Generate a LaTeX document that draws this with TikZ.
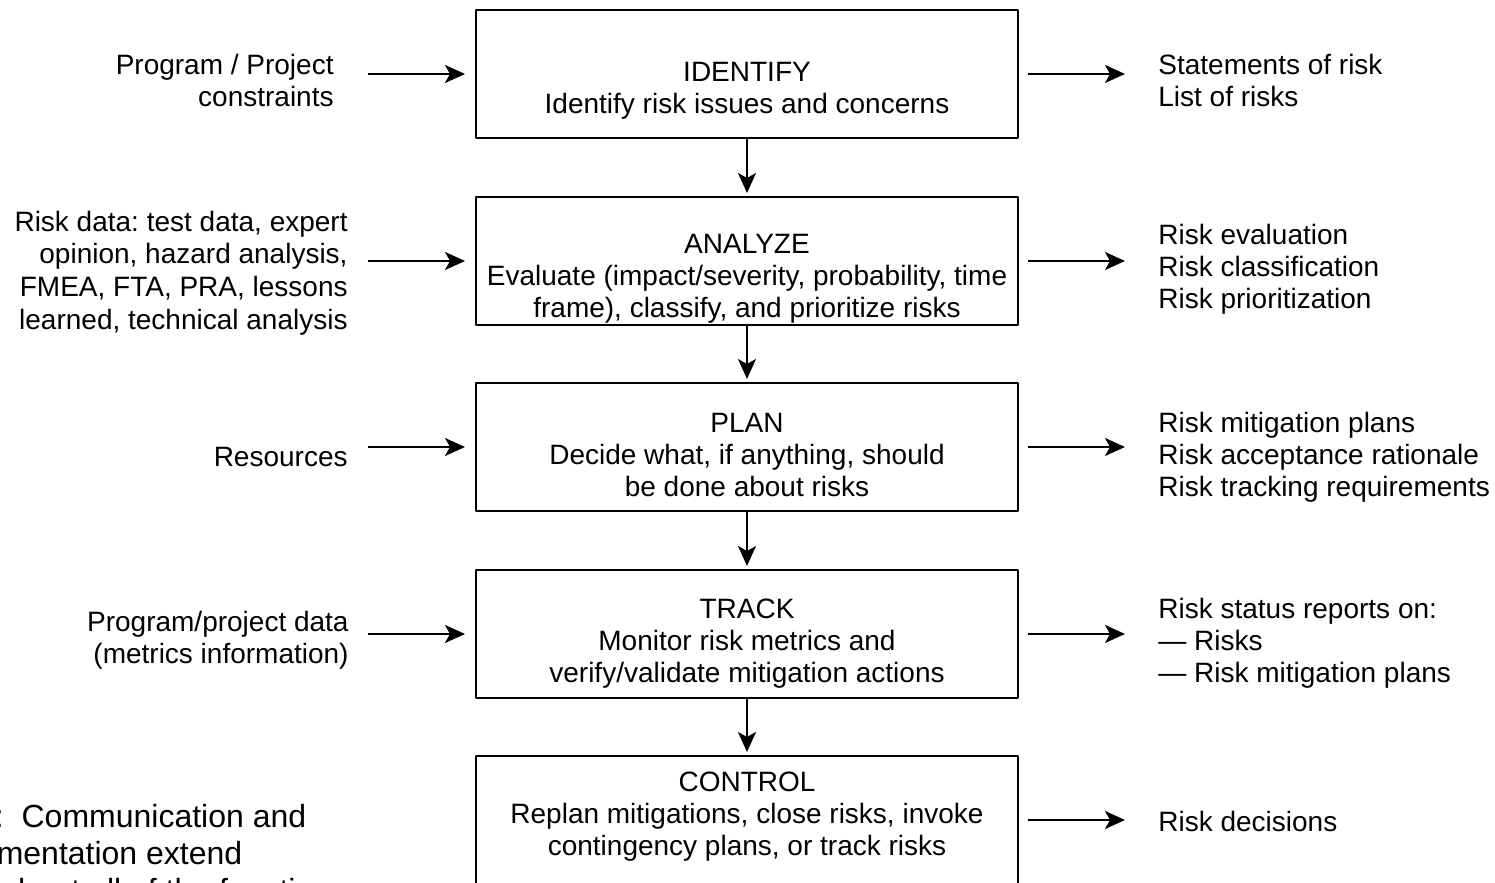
\documentclass[tikz,border=0pt]{standalone}
\usepackage{fontspec}
\setmainfont{Liberation Sans}
\usepackage{tikz}
\usetikzlibrary{arrows.meta}
\frenchspacing

\begin{document}
\begin{tikzpicture}[>={Stealth[length=10bp,width=9bp,inset=2.5bp]},line join=bevel,
  stage/.style={draw,minimum width=271bp,minimum height=64bp,inner sep=0pt,line width=1bp},
  stagetxt/.style={align=center,inner sep=0pt,font=\fontsize{14bp}{16bp}\selectfont},
  intxt/.style={align=right,anchor=east,inner sep=0pt,font=\fontsize{14bp}{16bp}\selectfont},
  outtxt/.style={align=left,anchor=west,inner sep=0pt,font=\fontsize{14bp}{16bp}\selectfont},
  flow/.style={->,line width=0.9bp}]
\useasboundingbox (0bp,0bp) rectangle (747.5bp,441.5bp);
%%
\node (identify) at (373.5bp,404.5bp) [stage] {};
  \node (analyze) at (373.5bp,311bp) [stage] {};
  \node (plan) at (373.5bp,218bp) [stage] {};
  \node (track) at (373.5bp,124.5bp) [stage] {};
  \node (control) at (373.5bp,31.5bp) [stage] {};
  %% texts in the boxes
  \node (identifytxt) at (373.5bp,396bp) [stagetxt] {IDENTIFY\\Identify risk issues and concerns};
  \node (analyzetxt) at (373.5bp,302bp) [stagetxt] {ANALYZE\\Evaluate (impact/severity, probability, time\\frame), classify, and prioritize risks};
  \node (plantxt) at (373.5bp,214bp) [stagetxt] {PLAN\\Decide what, if anything, should\\be done about risks};
  \node (tracktxt) at (373.5bp,119.5bp) [stagetxt] {TRACK\\Monitor risk metrics and\\verify/validate mitigation actions};
  \node (controltxt) at (373.5bp,33bp) [stagetxt] {CONTROL\\Replan mitigations, close risks, invoke\\contingency plans, or track risks};
  %% inputs
  \node (constraints) at (167bp,401bp) [intxt] {Program / Project\\constraints};
  \node (riskdata) at (174bp,305bp) [intxt,font=\fontsize{14bp}{16.3bp}\selectfont] {Risk data: test data, expert\\opinion, hazard analysis,\\FMEA, FTA, PRA, lessons\\learned, technical analysis};
  \node (resources) at (174bp,213bp) [intxt] {Resources};
  \node (projdata) at (174.5bp,121.5bp) [intxt] {Program/project data\\(metrics information)};
  %% outputs
  \node (statements) at (579bp,401bp) [outtxt] {Statements of risk\\List of risks};
  \node (evaluation) at (579bp,307bp) [outtxt] {Risk evaluation\\Risk classification\\Risk prioritization};
  \node (mitigation) at (579bp,213bp) [outtxt] {Risk mitigation plans\\Risk acceptance rationale\\Risk tracking requirements};
  \node (status) at (579bp,120bp) [outtxt] {Risk status reports on:\\\textemdash{} Risks\\\textemdash{} Risk mitigation plans};
  \node (decisions) at (579bp,31bp) [outtxt] {Risk decisions};
  %162.0
  \node (note) at (-36.5bp,13.5bp) [anchor=west,align=left,inner sep=0pt,font=\fontsize{16bp}{18.5bp}\selectfont] {Note:\ \ Communication and\\documentation extend\\throughout all of the functions};
  \draw [flow,shorten >=1.5bp] (identify) -- (analyze);
  \draw [flow,shorten >=1.5bp] (analyze) -- (plan);
  \draw [flow,shorten >=1.5bp] (plan) -- (track);
  \draw [flow,shorten >=1.5bp] (track) -- (control);
  \draw [flow,shorten <=17bp,shorten >=5bp] (constraints.east |- identify.west) -- (identify.west);
  \draw [flow,shorten <=10bp,shorten >=5bp] (riskdata.east |- analyze.west) -- (analyze.west);
  \draw [flow,shorten <=10bp,shorten >=5bp] (resources.east |- plan.west) -- (plan.west);
  \draw [flow,shorten <=9.5bp,shorten >=5bp] (projdata.east |- track.west) -- (track.west);
  \draw [flow,shorten <=4.5bp,shorten >=16.5bp] (identify.east) -- (statements.west |- identify.east);
  \draw [flow,shorten <=4.5bp,shorten >=16.5bp] (analyze.east) -- (evaluation.west |- analyze.east);
  \draw [flow,shorten <=4.5bp,shorten >=16.5bp] (plan.east) -- (mitigation.west |- plan.east);
  \draw [flow,shorten <=4.5bp,shorten >=16.5bp] (track.east) -- (status.west |- track.east);
  \draw [flow,shorten <=4.5bp,shorten >=16.5bp] (control.east) -- (decisions.west |- control.east);
%
\end{tikzpicture}
\end{document}
